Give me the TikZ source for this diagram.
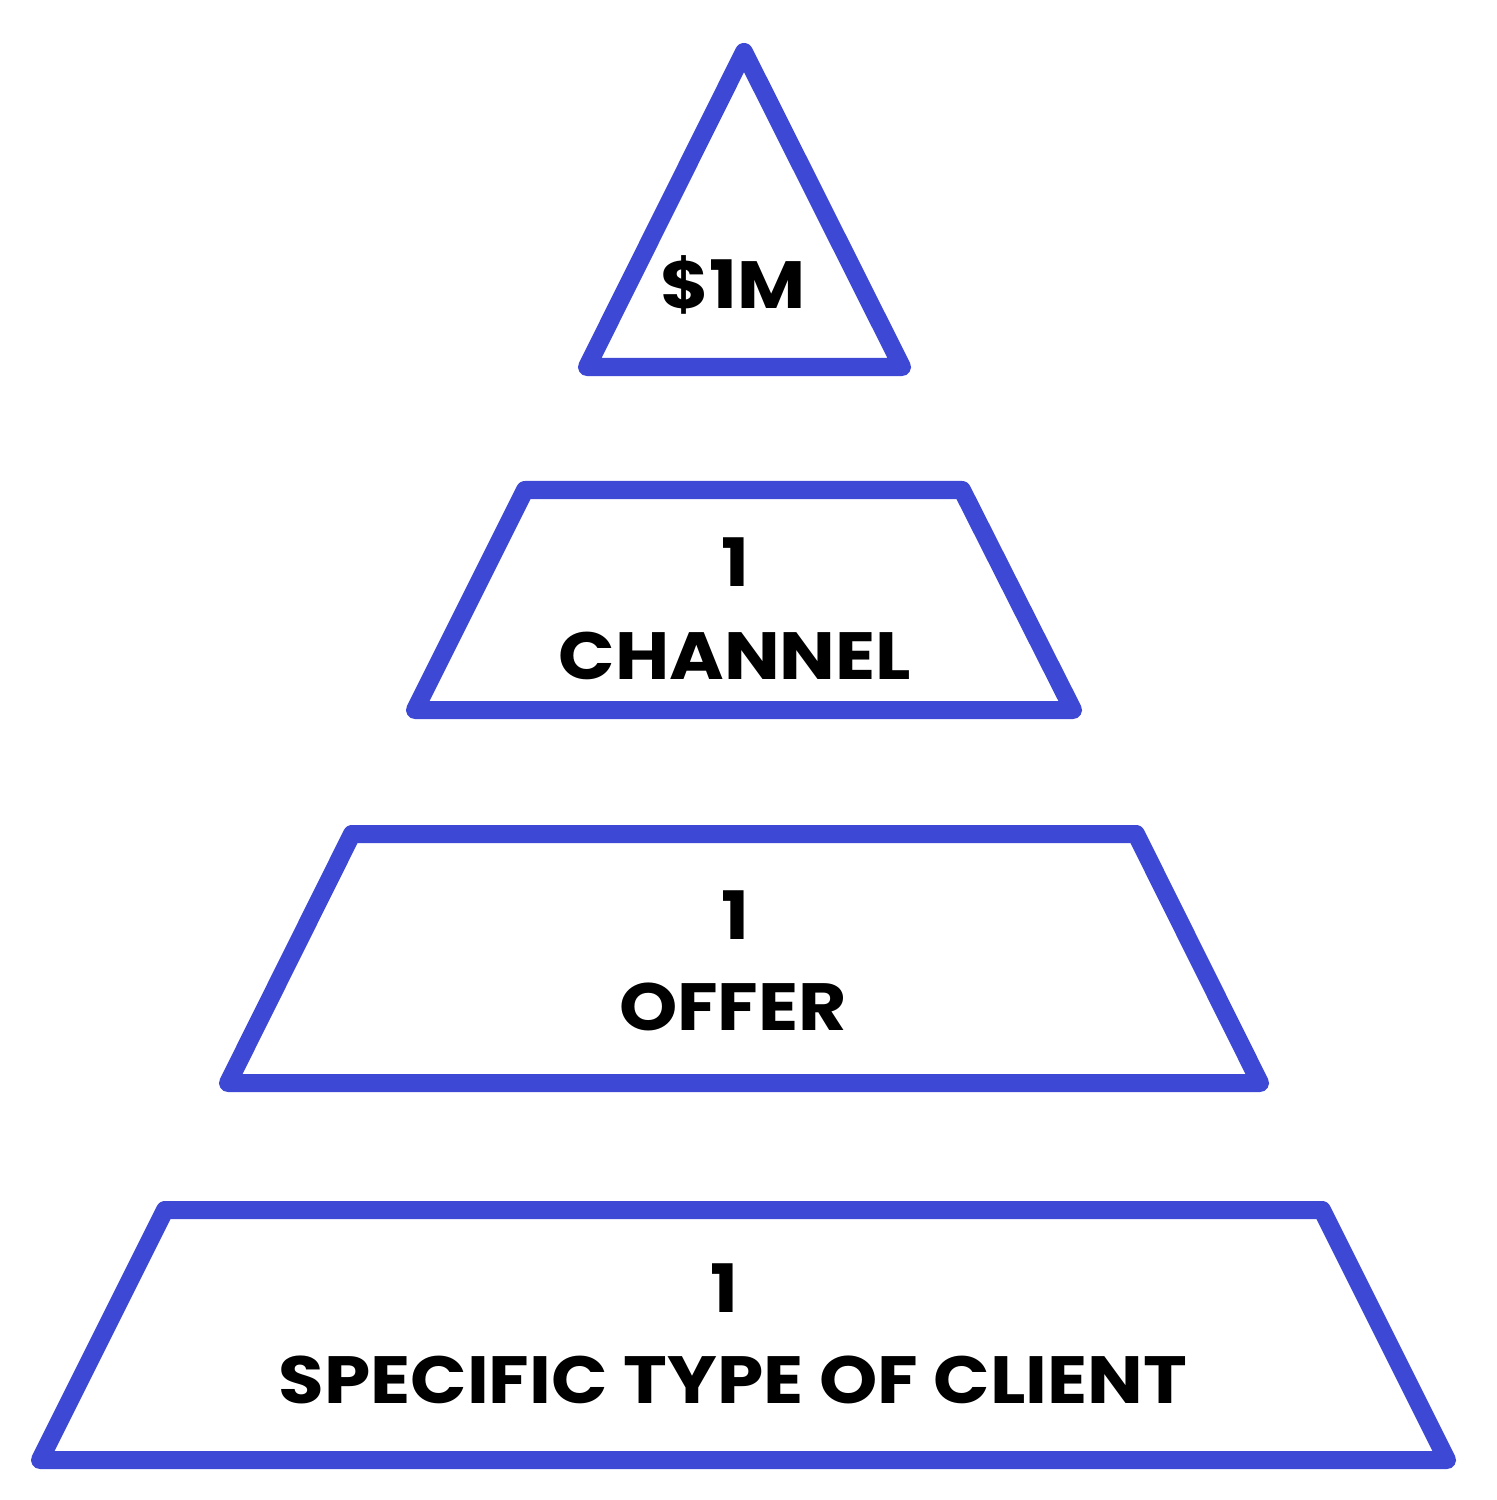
\documentclass[tikz,border=0pt]{standalone}
\usepackage{fontspec}
\setmainfont{Poppins}[FakeStretch=1.11]
\definecolor{pyrblue}{RGB}{61,72,212}

\begin{document}
\begin{tikzpicture}[
    x=0.01cm, y=-0.01cm,
    level/.style={draw=pyrblue, line width=0.18cm, line join=round, line cap=round},
    label/.style={font=\fontsize{19}{23}\selectfont\bfseries, text=black, inner sep=0pt, align=center}
]
    \useasboundingbox[fill=white] (0,0) rectangle (1496,1500);
    % top triangle
    \draw[level] (744,52) -- (902,367) -- (587,367) -- cycle;
    \node[label] (top) at (733,285) {\$1M};
    % second level
    \draw[level] (525,490) -- (962,490) -- (1073,710) -- (415,710) -- cycle;
    \node[label] (chnum) at (735,562) {1};
    \node[label] (channel) at (735,656) {CHANNEL};
    % third level
    \draw[level] (352,834) -- (1136,834) -- (1260,1083) -- (228,1083) -- cycle;
    \node[label] (ofnum) at (735,915) {1};
    \node[label] (offer) at (733,1007) {OFFER};
    % bottom level
    \draw[level] (165,1210) -- (1322,1210) -- (1447,1460) -- (40,1460) -- cycle;
    \node[label] (clnum) at (724,1288) {1};
    \node[label] (client) at (733,1380) {SPECIFIC TYPE OF CLIENT};
\end{tikzpicture}
\end{document}
